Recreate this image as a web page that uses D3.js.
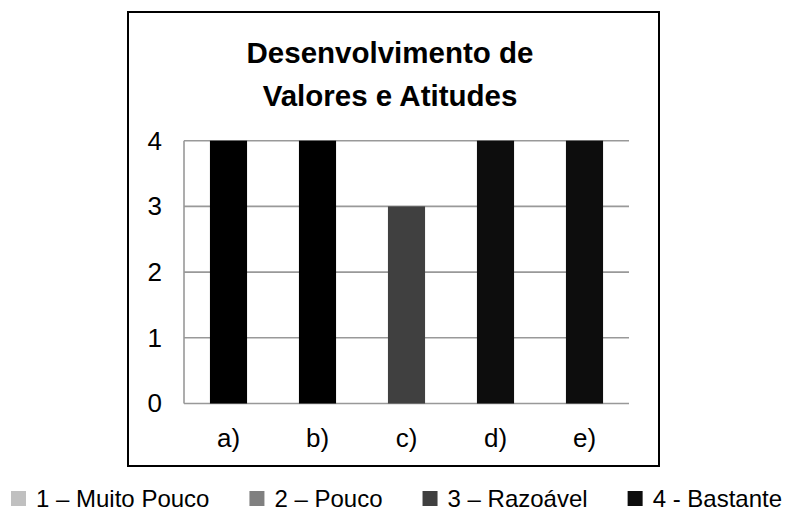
<!DOCTYPE html>
<html>
<head>
<meta charset="utf-8">
<script src="https://cdn.jsdelivr.net/npm/d3@7"></script>
<style>
  body { margin: 0; background: #fff; }
  text { font-family: "Liberation Sans", Arial, sans-serif; fill: #000; }
</style>
</head>
<body>
<div id="chart"></div>
<script>
// chart data
const categories = ["a)", "b)", "c)", "d)", "e)"];
const values = [4, 4, 3, 4, 4];
const yTicks = [0, 1, 2, 3, 4];
const titleLines = ["Desenvolvimento de", "Valores e Atitudes"];
const legendLabels = ["1 – Muito Pouco", "2 – Pouco", "3 – Razoável", "4 - Bastante"];
const legendColors = ["#c0c0c0", "#808080", "#404040", "#0d0d0d"];
// colour of each bar (a and b are pure black in the picture)
const barColors = ["#000000", "#000000", "#404040", "#0d0d0d", "#0d0d0d"];

const width = 791, height = 515;
const frame = { left: 128, top: 12, right: 659, bottom: 466 };
const plot = { left: 184, right: 629, top: 140.7, bottom: 403.5 };
const fontFamily = "\"Liberation Sans\", Arial, sans-serif";

const svg = d3.select("#chart").append("svg")
    .attr("width", width)
    .attr("height", height);

svg.append("rect").attr("width", width).attr("height", height).attr("fill", "#fff");

// outer chart frame
svg.append("rect")
    .attr("x", frame.left)
    .attr("y", frame.top)
    .attr("width", frame.right - frame.left)
    .attr("height", frame.bottom - frame.top)
    .attr("fill", "none")
    .attr("stroke", "#000")
    .attr("stroke-width", 2);

// title, two lines
svg.append("g").selectAll("text")
    .data(titleLines)
    .enter().append("text")
    .attr("x", 390)
    .attr("y", (d, i) => 63 + i * 43)
    .attr("text-anchor", "middle")
    .style("font-size", "29.5px")
    .style("font-weight", "bold")
    .text(d => d);

const xScale = d3.scaleBand()
    .domain(categories)
    .range([plot.left, plot.right])
    .paddingInner(0.583)
    .paddingOuter(0.2915);

const yScale = d3.scaleLinear()
    .domain([0, 4])
    .range([plot.bottom, plot.top]);

// gridlines
svg.append("g")
    .selectAll("line")
    .data(yTicks)
    .enter().append("line")
    .attr("x1", plot.left)
    .attr("x2", plot.right)
    .attr("y1", d => yScale(d))
    .attr("y2", d => yScale(d))
    .attr("stroke", "#999")
    .attr("stroke-width", 1.6);

// vertical axis line
svg.append("line")
    .attr("x1", plot.left).attr("x2", plot.left)
    .attr("y1", yScale(4)).attr("y2", yScale(0))
    .attr("stroke", "#999")
    .attr("stroke-width", 1.6);

// bars
svg.append("g")
    .selectAll("rect")
    .data(categories)
    .enter().append("rect")
    .attr("x", d => xScale(d))
    .attr("width", xScale.bandwidth())
    .attr("y", (d, i) => yScale(values[i]))
    .attr("height", (d, i) => yScale(0) - yScale(values[i]))
    .attr("fill", (d, i) => barColors[i]);

// y axis labels
const yAxis = d3.axisLeft(yScale).tickValues(yTicks).tickFormat(d3.format("d")).tickSize(0).tickPadding(22);
const yG = svg.append("g")
    .attr("transform", `translate(${plot.left},0)`)
    .call(yAxis);
yG.select(".domain").remove();
yG.selectAll("text")
    .style("font-size", "26px")
    .style("font-family", fontFamily)
    .attr("fill", "#000");

// x axis labels
const xAxis = d3.axisBottom(xScale).tickSize(0).tickPadding(25);
const xG = svg.append("g")
    .attr("transform", `translate(0,${plot.bottom})`)
    .call(xAxis);
xG.select(".domain").remove();
xG.selectAll("text")
    .style("font-size", "26px")
    .style("font-family", fontFamily)
    .attr("fill", "#000");

// legend, laid out left to right
const legend = svg.append("g").attr("transform", "translate(11, 0)");
let cursor = 0;
legendLabels.forEach((label, i) => {
    const item = legend.append("g").attr("transform", `translate(${cursor},0)`);
    item.append("rect")
        .attr("x", 0)
        .attr("y", 491)
        .attr("width", 15)
        .attr("height", 15)
        .attr("fill", legendColors[i]);
    const t = item.append("text")
        .attr("x", 25)
        .attr("y", 507)
        .style("font-size", "24px")
        .text(label);
    cursor += 25 + t.node().getComputedTextLength() + 40;
});
</script>
</body>
</html>
